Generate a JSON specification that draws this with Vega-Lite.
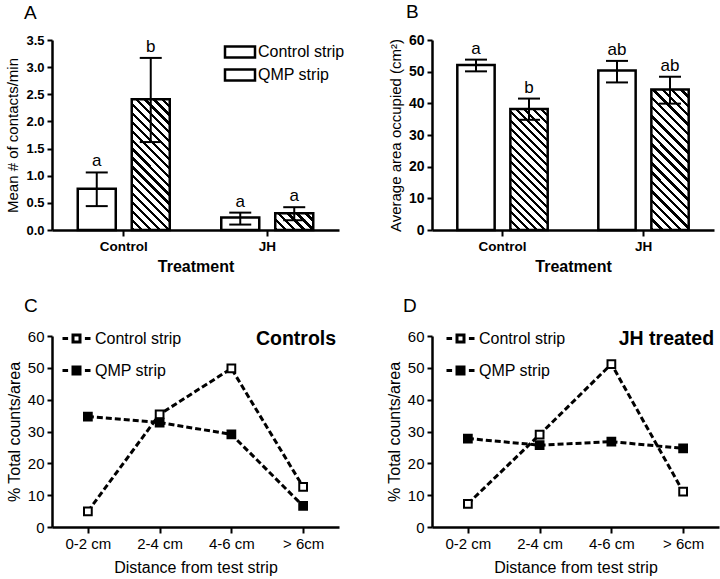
{
  "$schema": "https://vega.github.io/schema/vega-lite/v6.json",
  "background": "white",
  "padding": {"left": 5, "top": 3, "right": 5, "bottom": 5},
  "columns": 2,
  "spacing": {"row": 21, "column": 41},
  "resolve": {
    "scale": {"x": "independent", "y": "independent", "xOffset": "independent", "fill": "independent", "stroke": "independent"},
    "legend": {"fill": "independent", "stroke": "independent"}
  },
  "config": {
    "font": "Liberation Sans",
    "view": {"stroke": null},
    "axis": {
      "domainColor": "black", "domainWidth": 2.5, "tickColor": "black", "tickWidth": 2, "tickSize": 5,
      "labelColor": "black", "titleColor": "black", "grid": false, "labelOverlap": false,
      "labelFont": "Liberation Sans", "titleFont": "Liberation Sans"
    },
    "legend": {"labelColor": "black", "labelFont": "Liberation Sans"},
    "title": {"color": "black", "font": "Liberation Sans"}
  },
  "concat": [
    {
      "width": 287,
      "height": 190,
      "title": {"text": "A", "anchor": "start", "frame": "group", "dx": -28, "fontSize": 19, "fontWeight": "normal", "offset": 11},
      "data": {"values": [
        {"group": "Control", "series": "Control strip", "mean": 0.76, "lo": 0.44, "hi": 1.06, "letter": "a"},
        {"group": "Control", "series": "QMP strip", "mean": 2.41, "lo": 1.62, "hi": 3.17, "letter": "b"},
        {"group": "JH", "series": "Control strip", "mean": 0.23, "lo": 0.1, "hi": 0.32, "letter": "a"},
        {"group": "JH", "series": "QMP strip", "mean": 0.31, "lo": 0.18, "hi": 0.42, "letter": "a"}
      ]},
      "encoding": {
        "x": {"field": "group", "type": "nominal", "title": "Treatment",
          "scale": {"paddingInner": 0, "paddingOuter": 0},
          "axis": {"labelAngle": 0, "labelFontWeight": "bold", "labelFontSize": 13.5, "labelPadding": 3, "titleFontSize": 16, "titleFontWeight": "bold", "titlePadding": 6, "tickSize": 6}},
        "xOffset": {"field": "series", "type": "nominal", "scale": {"paddingInner": 0.296, "paddingOuter": 0.477}}
      },
      "layer": [
        {
          "mark": {"type": "bar", "strokeWidth": 2.5},
          "encoding": {
            "y": {"field": "mean", "type": "quantitative", "title": "Mean # of contacts/min",
              "scale": {"domain": [0, 3.5]},
              "axis": {"values": [0, 0.5, 1, 1.5, 2, 2.5, 3, 3.5], "format": ".1f", "labelFontWeight": "bold", "labelFontSize": 13, "labelPadding": 3, "titleFontSize": 15, "titleFontWeight": "normal", "titlePadding": 5}},
            "stroke": {"field": "series", "type": "nominal", "scale": {"range": ["black", "black"]},
              "legend": {"title": null, "orient": "none", "legendX": 179, "legendY": 3, "labelFontSize": 16, "symbolType": "M-2,-0.73H2V0.73H-2Z", "symbolSize": 225, "symbolStrokeWidth": 2.5, "rowPadding": 1, "labelOffset": 9,
                "encode": {"symbols": {"update": {
                  "fill": [
                    {"test": "datum.value === 'QMP strip'", "value": {"gradient": "linear", "x1": 0, "y1": 1, "x2": 1.205, "y2": 0.558, "stops": [
                      {"offset": 0, "color": "#000"}, {"offset": 0.0925, "color": "#000"}, {"offset": 0.0925, "color": "#fff"}, {"offset": 0.25, "color": "#fff"},
                      {"offset": 0.25, "color": "#000"}, {"offset": 0.3425, "color": "#000"}, {"offset": 0.3425, "color": "#fff"}, {"offset": 0.5, "color": "#fff"},
                      {"offset": 0.5, "color": "#000"}, {"offset": 0.5925, "color": "#000"}, {"offset": 0.5925, "color": "#fff"}, {"offset": 0.75, "color": "#fff"},
                      {"offset": 0.75, "color": "#000"}, {"offset": 0.8425, "color": "#000"}, {"offset": 0.8425, "color": "#fff"}, {"offset": 1, "color": "#fff"}
                    ]}},
                    {"value": "white"}
                  ],
                  "fillOpacity": {"value": 1},
                  "stroke": {"value": "black"},
                  "strokeWidth": {"value": 2.5}
                }}}
              }},
            "fill": {
              "condition": [
                {"test": "datum.group === 'Control' && datum.series === 'QMP strip'", "value": {"gradient": "linear", "x1": 0, "y1": 1, "x2": 0.346, "y2": -0.19, "stops": [
                  {"offset": 0, "color": "#000"}, {"offset": 0.0195, "color": "#000"}, {"offset": 0.0195, "color": "#fff"}, {"offset": 0.0526, "color": "#fff"},
                  {"offset": 0.0526, "color": "#000"}, {"offset": 0.0721, "color": "#000"}, {"offset": 0.0721, "color": "#fff"}, {"offset": 0.1053, "color": "#fff"},
                  {"offset": 0.1053, "color": "#000"}, {"offset": 0.1248, "color": "#000"}, {"offset": 0.1248, "color": "#fff"}, {"offset": 0.1579, "color": "#fff"},
                  {"offset": 0.1579, "color": "#000"}, {"offset": 0.1774, "color": "#000"}, {"offset": 0.1774, "color": "#fff"}, {"offset": 0.2105, "color": "#fff"},
                  {"offset": 0.2105, "color": "#000"}, {"offset": 0.23, "color": "#000"}, {"offset": 0.23, "color": "#fff"}, {"offset": 0.2632, "color": "#fff"},
                  {"offset": 0.2632, "color": "#000"}, {"offset": 0.2827, "color": "#000"}, {"offset": 0.2827, "color": "#fff"}, {"offset": 0.3158, "color": "#fff"},
                  {"offset": 0.3158, "color": "#000"}, {"offset": 0.3353, "color": "#000"}, {"offset": 0.3353, "color": "#fff"}, {"offset": 0.3684, "color": "#fff"},
                  {"offset": 0.3684, "color": "#000"}, {"offset": 0.3879, "color": "#000"}, {"offset": 0.3879, "color": "#fff"}, {"offset": 0.4211, "color": "#fff"},
                  {"offset": 0.4211, "color": "#000"}, {"offset": 0.4406, "color": "#000"}, {"offset": 0.4406, "color": "#fff"}, {"offset": 0.4737, "color": "#fff"},
                  {"offset": 0.4737, "color": "#000"}, {"offset": 0.4932, "color": "#000"}, {"offset": 0.4932, "color": "#fff"}, {"offset": 0.5263, "color": "#fff"},
                  {"offset": 0.5263, "color": "#000"}, {"offset": 0.5458, "color": "#000"}, {"offset": 0.5458, "color": "#fff"}, {"offset": 0.5789, "color": "#fff"},
                  {"offset": 0.5789, "color": "#000"}, {"offset": 0.5984, "color": "#000"}, {"offset": 0.5984, "color": "#fff"}, {"offset": 0.6316, "color": "#fff"},
                  {"offset": 0.6316, "color": "#000"}, {"offset": 0.6511, "color": "#000"}, {"offset": 0.6511, "color": "#fff"}, {"offset": 0.6842, "color": "#fff"},
                  {"offset": 0.6842, "color": "#000"}, {"offset": 0.7037, "color": "#000"}, {"offset": 0.7037, "color": "#fff"}, {"offset": 0.7368, "color": "#fff"},
                  {"offset": 0.7368, "color": "#000"}, {"offset": 0.7563, "color": "#000"}, {"offset": 0.7563, "color": "#fff"}, {"offset": 0.7895, "color": "#fff"},
                  {"offset": 0.7895, "color": "#000"}, {"offset": 0.809, "color": "#000"}, {"offset": 0.809, "color": "#fff"}, {"offset": 0.8421, "color": "#fff"},
                  {"offset": 0.8421, "color": "#000"}, {"offset": 0.8616, "color": "#000"}, {"offset": 0.8616, "color": "#fff"}, {"offset": 0.8947, "color": "#fff"},
                  {"offset": 0.8947, "color": "#000"}, {"offset": 0.9142, "color": "#000"}, {"offset": 0.9142, "color": "#fff"}, {"offset": 0.9474, "color": "#fff"},
                  {"offset": 0.9474, "color": "#000"}, {"offset": 0.9669, "color": "#000"}, {"offset": 0.9669, "color": "#fff"}, {"offset": 1, "color": "#fff"}
                ]}},
                {"test": "datum.group === 'JH' && datum.series === 'QMP strip'", "value": {"gradient": "linear", "x1": 0, "y1": 1, "x2": 1.207, "y2": 0.467, "stops": [
                  {"offset": 0, "color": "#000"}, {"offset": 0.0617, "color": "#000"}, {"offset": 0.0617, "color": "#fff"}, {"offset": 0.1667, "color": "#fff"},
                  {"offset": 0.1667, "color": "#000"}, {"offset": 0.2284, "color": "#000"}, {"offset": 0.2284, "color": "#fff"}, {"offset": 0.3333, "color": "#fff"},
                  {"offset": 0.3333, "color": "#000"}, {"offset": 0.395, "color": "#000"}, {"offset": 0.395, "color": "#fff"}, {"offset": 0.5, "color": "#fff"},
                  {"offset": 0.5, "color": "#000"}, {"offset": 0.5617, "color": "#000"}, {"offset": 0.5617, "color": "#fff"}, {"offset": 0.6667, "color": "#fff"},
                  {"offset": 0.6667, "color": "#000"}, {"offset": 0.7284, "color": "#000"}, {"offset": 0.7284, "color": "#fff"}, {"offset": 0.8333, "color": "#fff"},
                  {"offset": 0.8333, "color": "#000"}, {"offset": 0.895, "color": "#000"}, {"offset": 0.895, "color": "#fff"}, {"offset": 1, "color": "#fff"}
                ]}}
              ],
              "value": "white"
            }
          }
        },
        {
          "mark": {"type": "rule", "strokeWidth": 2, "color": "black"},
          "encoding": {"y": {"field": "lo", "type": "quantitative", "title": "Mean # of contacts/min", "scale": {"domain": [0, 3.5]},
              "axis": {"values": [0, 0.5, 1, 1.5, 2, 2.5, 3, 3.5], "format": ".1f", "labelFontWeight": "bold", "labelFontSize": 13, "labelPadding": 3, "titleFontSize": 15, "titleFontWeight": "normal", "titlePadding": 5}},
            "y2": {"field": "hi"}}
        },
        {
          "mark": {"type": "tick", "size": 22, "thickness": 2, "color": "black", "opacity": 1},
          "encoding": {"y": {"field": "lo", "type": "quantitative", "title": "Mean # of contacts/min", "scale": {"domain": [0, 3.5]},
              "axis": {"values": [0, 0.5, 1, 1.5, 2, 2.5, 3, 3.5], "format": ".1f", "labelFontWeight": "bold", "labelFontSize": 13, "labelPadding": 3, "titleFontSize": 15, "titleFontWeight": "normal", "titlePadding": 5}}}
        },
        {
          "mark": {"type": "tick", "size": 22, "thickness": 2, "color": "black", "opacity": 1},
          "encoding": {"y": {"field": "hi", "type": "quantitative", "title": "Mean # of contacts/min", "scale": {"domain": [0, 3.5]},
              "axis": {"values": [0, 0.5, 1, 1.5, 2, 2.5, 3, 3.5], "format": ".1f", "labelFontWeight": "bold", "labelFontSize": 13, "labelPadding": 3, "titleFontSize": 15, "titleFontWeight": "normal", "titlePadding": 5}}}
        },
        {
          "mark": {"type": "text", "baseline": "bottom", "dy": -2, "fontSize": 17, "color": "black"},
          "encoding": {"y": {"field": "hi", "type": "quantitative", "title": "Mean # of contacts/min", "scale": {"domain": [0, 3.5]},
              "axis": {"values": [0, 0.5, 1, 1.5, 2, 2.5, 3, 3.5], "format": ".1f", "labelFontWeight": "bold", "labelFontSize": 13, "labelPadding": 3, "titleFontSize": 15, "titleFontWeight": "normal", "titlePadding": 5}},
            "text": {"field": "letter"}}
        }
      ]
    },
    {
      "width": 282,
      "height": 190,
      "title": {"text": "B", "anchor": "start", "frame": "group", "dx": -26, "fontSize": 19, "fontWeight": "normal", "offset": 11},
      "data": {"values": [
        {"group": "Control", "series": "Control strip", "mean": 52.1, "lo": 50.1, "hi": 53.8, "letter": "a"},
        {"group": "Control", "series": "QMP strip", "mean": 38.25, "lo": 34.8, "hi": 41.5, "letter": "b"},
        {"group": "JH", "series": "Control strip", "mean": 50.4, "lo": 46.6, "hi": 53.4, "letter": "ab"},
        {"group": "JH", "series": "QMP strip", "mean": 44.4, "lo": 39.9, "hi": 48.4, "letter": "ab"}
      ]},
      "encoding": {
        "x": {"field": "group", "type": "nominal", "title": "Treatment",
          "scale": {"paddingInner": 0, "paddingOuter": 0},
          "axis": {"labelAngle": 0, "labelFontWeight": "bold", "labelFontSize": 13.5, "labelPadding": 3, "titleFontSize": 16, "titleFontWeight": "bold", "titlePadding": 6, "tickSize": 6}},
        "xOffset": {"field": "series", "type": "nominal", "scale": {"paddingInner": 0.296, "paddingOuter": 0.477}}
      },
      "layer": [
        {
          "mark": {"type": "bar", "strokeWidth": 2.5, "stroke": "black"},
          "encoding": {
            "y": {"field": "mean", "type": "quantitative", "title": "Average area occupied (cm²)",
              "scale": {"domain": [0, 60]},
              "axis": {"values": [0, 10, 20, 30, 40, 50, 60], "labelFontWeight": "bold", "labelFontSize": 14, "labelPadding": 3, "titleFontSize": 15, "titleFontWeight": "normal", "titlePadding": 5}},
            "fill": {
              "condition": [
                {"test": "datum.group === 'Control' && datum.series === 'QMP strip'", "value": {"gradient": "linear", "x1": 0, "y1": 1, "x2": 0.369, "y2": -0.195, "stops": [
                  {"offset": 0, "color": "#000"}, {"offset": 0.0195, "color": "#000"}, {"offset": 0.0195, "color": "#fff"}, {"offset": 0.0526, "color": "#fff"},
                  {"offset": 0.0526, "color": "#000"}, {"offset": 0.0721, "color": "#000"}, {"offset": 0.0721, "color": "#fff"}, {"offset": 0.1053, "color": "#fff"},
                  {"offset": 0.1053, "color": "#000"}, {"offset": 0.1248, "color": "#000"}, {"offset": 0.1248, "color": "#fff"}, {"offset": 0.1579, "color": "#fff"},
                  {"offset": 0.1579, "color": "#000"}, {"offset": 0.1774, "color": "#000"}, {"offset": 0.1774, "color": "#fff"}, {"offset": 0.2105, "color": "#fff"},
                  {"offset": 0.2105, "color": "#000"}, {"offset": 0.23, "color": "#000"}, {"offset": 0.23, "color": "#fff"}, {"offset": 0.2632, "color": "#fff"},
                  {"offset": 0.2632, "color": "#000"}, {"offset": 0.2827, "color": "#000"}, {"offset": 0.2827, "color": "#fff"}, {"offset": 0.3158, "color": "#fff"},
                  {"offset": 0.3158, "color": "#000"}, {"offset": 0.3353, "color": "#000"}, {"offset": 0.3353, "color": "#fff"}, {"offset": 0.3684, "color": "#fff"},
                  {"offset": 0.3684, "color": "#000"}, {"offset": 0.3879, "color": "#000"}, {"offset": 0.3879, "color": "#fff"}, {"offset": 0.4211, "color": "#fff"},
                  {"offset": 0.4211, "color": "#000"}, {"offset": 0.4406, "color": "#000"}, {"offset": 0.4406, "color": "#fff"}, {"offset": 0.4737, "color": "#fff"},
                  {"offset": 0.4737, "color": "#000"}, {"offset": 0.4932, "color": "#000"}, {"offset": 0.4932, "color": "#fff"}, {"offset": 0.5263, "color": "#fff"},
                  {"offset": 0.5263, "color": "#000"}, {"offset": 0.5458, "color": "#000"}, {"offset": 0.5458, "color": "#fff"}, {"offset": 0.5789, "color": "#fff"},
                  {"offset": 0.5789, "color": "#000"}, {"offset": 0.5984, "color": "#000"}, {"offset": 0.5984, "color": "#fff"}, {"offset": 0.6316, "color": "#fff"},
                  {"offset": 0.6316, "color": "#000"}, {"offset": 0.6511, "color": "#000"}, {"offset": 0.6511, "color": "#fff"}, {"offset": 0.6842, "color": "#fff"},
                  {"offset": 0.6842, "color": "#000"}, {"offset": 0.7037, "color": "#000"}, {"offset": 0.7037, "color": "#fff"}, {"offset": 0.7368, "color": "#fff"},
                  {"offset": 0.7368, "color": "#000"}, {"offset": 0.7563, "color": "#000"}, {"offset": 0.7563, "color": "#fff"}, {"offset": 0.7895, "color": "#fff"},
                  {"offset": 0.7895, "color": "#000"}, {"offset": 0.809, "color": "#000"}, {"offset": 0.809, "color": "#fff"}, {"offset": 0.8421, "color": "#fff"},
                  {"offset": 0.8421, "color": "#000"}, {"offset": 0.8616, "color": "#000"}, {"offset": 0.8616, "color": "#fff"}, {"offset": 0.8947, "color": "#fff"},
                  {"offset": 0.8947, "color": "#000"}, {"offset": 0.9142, "color": "#000"}, {"offset": 0.9142, "color": "#fff"}, {"offset": 0.9474, "color": "#fff"},
                  {"offset": 0.9474, "color": "#000"}, {"offset": 0.9669, "color": "#000"}, {"offset": 0.9669, "color": "#fff"}, {"offset": 1, "color": "#fff"}
                ]}},
                {"test": "datum.group === 'JH' && datum.series === 'QMP strip'", "value": {"gradient": "linear", "x1": 0, "y1": 1, "x2": 0.315, "y2": -0.182, "stops": [
                  {"offset": 0, "color": "#000"}, {"offset": 0.0195, "color": "#000"}, {"offset": 0.0195, "color": "#fff"}, {"offset": 0.0526, "color": "#fff"},
                  {"offset": 0.0526, "color": "#000"}, {"offset": 0.0721, "color": "#000"}, {"offset": 0.0721, "color": "#fff"}, {"offset": 0.1053, "color": "#fff"},
                  {"offset": 0.1053, "color": "#000"}, {"offset": 0.1248, "color": "#000"}, {"offset": 0.1248, "color": "#fff"}, {"offset": 0.1579, "color": "#fff"},
                  {"offset": 0.1579, "color": "#000"}, {"offset": 0.1774, "color": "#000"}, {"offset": 0.1774, "color": "#fff"}, {"offset": 0.2105, "color": "#fff"},
                  {"offset": 0.2105, "color": "#000"}, {"offset": 0.23, "color": "#000"}, {"offset": 0.23, "color": "#fff"}, {"offset": 0.2632, "color": "#fff"},
                  {"offset": 0.2632, "color": "#000"}, {"offset": 0.2827, "color": "#000"}, {"offset": 0.2827, "color": "#fff"}, {"offset": 0.3158, "color": "#fff"},
                  {"offset": 0.3158, "color": "#000"}, {"offset": 0.3353, "color": "#000"}, {"offset": 0.3353, "color": "#fff"}, {"offset": 0.3684, "color": "#fff"},
                  {"offset": 0.3684, "color": "#000"}, {"offset": 0.3879, "color": "#000"}, {"offset": 0.3879, "color": "#fff"}, {"offset": 0.4211, "color": "#fff"},
                  {"offset": 0.4211, "color": "#000"}, {"offset": 0.4406, "color": "#000"}, {"offset": 0.4406, "color": "#fff"}, {"offset": 0.4737, "color": "#fff"},
                  {"offset": 0.4737, "color": "#000"}, {"offset": 0.4932, "color": "#000"}, {"offset": 0.4932, "color": "#fff"}, {"offset": 0.5263, "color": "#fff"},
                  {"offset": 0.5263, "color": "#000"}, {"offset": 0.5458, "color": "#000"}, {"offset": 0.5458, "color": "#fff"}, {"offset": 0.5789, "color": "#fff"},
                  {"offset": 0.5789, "color": "#000"}, {"offset": 0.5984, "color": "#000"}, {"offset": 0.5984, "color": "#fff"}, {"offset": 0.6316, "color": "#fff"},
                  {"offset": 0.6316, "color": "#000"}, {"offset": 0.6511, "color": "#000"}, {"offset": 0.6511, "color": "#fff"}, {"offset": 0.6842, "color": "#fff"},
                  {"offset": 0.6842, "color": "#000"}, {"offset": 0.7037, "color": "#000"}, {"offset": 0.7037, "color": "#fff"}, {"offset": 0.7368, "color": "#fff"},
                  {"offset": 0.7368, "color": "#000"}, {"offset": 0.7563, "color": "#000"}, {"offset": 0.7563, "color": "#fff"}, {"offset": 0.7895, "color": "#fff"},
                  {"offset": 0.7895, "color": "#000"}, {"offset": 0.809, "color": "#000"}, {"offset": 0.809, "color": "#fff"}, {"offset": 0.8421, "color": "#fff"},
                  {"offset": 0.8421, "color": "#000"}, {"offset": 0.8616, "color": "#000"}, {"offset": 0.8616, "color": "#fff"}, {"offset": 0.8947, "color": "#fff"},
                  {"offset": 0.8947, "color": "#000"}, {"offset": 0.9142, "color": "#000"}, {"offset": 0.9142, "color": "#fff"}, {"offset": 0.9474, "color": "#fff"},
                  {"offset": 0.9474, "color": "#000"}, {"offset": 0.9669, "color": "#000"}, {"offset": 0.9669, "color": "#fff"}, {"offset": 1, "color": "#fff"}
                ]}}
              ],
              "value": "white"
            }
          }
        },
        {
          "mark": {"type": "rule", "strokeWidth": 2, "color": "black"},
          "encoding": {"y": {"field": "lo", "type": "quantitative", "title": "Average area occupied (cm²)", "scale": {"domain": [0, 60]},
              "axis": {"values": [0, 10, 20, 30, 40, 50, 60], "labelFontWeight": "bold", "labelFontSize": 14, "labelPadding": 3, "titleFontSize": 15, "titleFontWeight": "normal", "titlePadding": 5}},
            "y2": {"field": "hi"}}
        },
        {
          "mark": {"type": "tick", "size": 22, "thickness": 2, "color": "black", "opacity": 1},
          "encoding": {"y": {"field": "lo", "type": "quantitative", "title": "Average area occupied (cm²)", "scale": {"domain": [0, 60]},
              "axis": {"values": [0, 10, 20, 30, 40, 50, 60], "labelFontWeight": "bold", "labelFontSize": 14, "labelPadding": 3, "titleFontSize": 15, "titleFontWeight": "normal", "titlePadding": 5}}}
        },
        {
          "mark": {"type": "tick", "size": 22, "thickness": 2, "color": "black", "opacity": 1},
          "encoding": {"y": {"field": "hi", "type": "quantitative", "title": "Average area occupied (cm²)", "scale": {"domain": [0, 60]},
              "axis": {"values": [0, 10, 20, 30, 40, 50, 60], "labelFontWeight": "bold", "labelFontSize": 14, "labelPadding": 3, "titleFontSize": 15, "titleFontWeight": "normal", "titlePadding": 5}}}
        },
        {
          "mark": {"type": "text", "baseline": "bottom", "dy": -2, "fontSize": 17, "color": "black"},
          "encoding": {"y": {"field": "hi", "type": "quantitative", "title": "Average area occupied (cm²)", "scale": {"domain": [0, 60]},
              "axis": {"values": [0, 10, 20, 30, 40, 50, 60], "labelFontWeight": "bold", "labelFontSize": 14, "labelPadding": 3, "titleFontSize": 15, "titleFontWeight": "normal", "titlePadding": 5}},
            "text": {"field": "letter"}}
        }
      ]
    },
    {
      "width": 287,
      "height": 191,
      "title": {"text": "C", "anchor": "start", "frame": "group", "dx": -28, "fontSize": 19, "fontWeight": "normal", "offset": 13.5},
      "data": {"values": [
        {"dist": "0-2 cm", "series": "Control strip", "pct": 4.9},
        {"dist": "2-4 cm", "series": "Control strip", "pct": 35.4},
        {"dist": "4-6 cm", "series": "Control strip", "pct": 49.8},
        {"dist": "> 6cm", "series": "Control strip", "pct": 12.6},
        {"dist": "0-2 cm", "series": "QMP strip", "pct": 34.7},
        {"dist": "2-4 cm", "series": "QMP strip", "pct": 32.8},
        {"dist": "4-6 cm", "series": "QMP strip", "pct": 29.1},
        {"dist": "> 6cm", "series": "QMP strip", "pct": 6.6}
      ]},
      "encoding": {
        "x": {"field": "dist", "type": "ordinal", "title": "Distance from test strip",
          "sort": ["0-2 cm", "2-4 cm", "4-6 cm", "> 6cm"],
          "scale": {"type": "point", "padding": 0.5},
          "axis": {"labelAngle": 0, "labelFontSize": 15, "labelPadding": 3, "titleFontSize": 16, "titleFontWeight": "normal", "titlePadding": 8, "tickSize": 6}},
        "y": {"field": "pct", "type": "quantitative", "title": "% Total counts/area",
          "scale": {"domain": [0, 60]},
          "axis": {"values": [0, 10, 20, 30, 40, 50, 60], "labelFontSize": 15, "labelPadding": 3, "titleFontSize": 16, "titleFontWeight": "normal", "titlePadding": 5}}
      },
      "layer": [
        {
          "mark": {"type": "line", "strokeDash": [6, 3], "strokeWidth": 3, "color": "black"},
          "encoding": {"detail": {"field": "series"}}
        },
        {
          "mark": {"type": "point", "shape": "square", "filled": true, "size": 60, "stroke": "black", "strokeWidth": 2, "opacity": 1},
          "encoding": {"fill": {"field": "series", "type": "nominal", "scale": {"range": ["white", "black"]},
            "legend": {"title": null, "orient": "none", "legendX": 16, "legendY": -6, "labelFontSize": 16, "symbolType": "M-2,0H-1.2M1.2,0H2M-0.5,-0.5H0.5V0.5H-0.5Z", "symbolSize": 196, "symbolStrokeColor": "black", "symbolStrokeWidth": 3, "symbolOpacity": 1, "rowPadding": 13, "labelOffset": 10}}}
        },
        {
          "transform": [{"filter": "datum.dist === '> 6cm' && datum.series === 'Control strip'"}],
          "mark": {"type": "text", "align": "right", "baseline": "middle", "dx": 33, "fontSize": 19.5, "fontWeight": "bold", "color": "black"},
          "encoding": {"y": {"datum": 59, "type": "quantitative"}, "text": {"value": "Controls"}}
        }
      ]
    },
    {
      "width": 287,
      "height": 191,
      "title": {"text": "D", "anchor": "start", "frame": "group", "dx": -29, "fontSize": 19, "fontWeight": "normal", "offset": 13.5},
      "data": {"values": [
        {"dist": "0-2 cm", "series": "Control strip", "pct": 7.3},
        {"dist": "2-4 cm", "series": "Control strip", "pct": 29.0},
        {"dist": "4-6 cm", "series": "Control strip", "pct": 51.2},
        {"dist": "> 6cm", "series": "Control strip", "pct": 11.1},
        {"dist": "0-2 cm", "series": "QMP strip", "pct": 27.8},
        {"dist": "2-4 cm", "series": "QMP strip", "pct": 25.7},
        {"dist": "4-6 cm", "series": "QMP strip", "pct": 26.8},
        {"dist": "> 6cm", "series": "QMP strip", "pct": 24.7}
      ]},
      "encoding": {
        "x": {"field": "dist", "type": "ordinal", "title": "Distance from test strip",
          "sort": ["0-2 cm", "2-4 cm", "4-6 cm", "> 6cm"],
          "scale": {"type": "point", "padding": 0.5},
          "axis": {"labelAngle": 0, "labelFontSize": 15, "labelPadding": 3, "titleFontSize": 16, "titleFontWeight": "normal", "titlePadding": 8, "tickSize": 6}},
        "y": {"field": "pct", "type": "quantitative", "title": "% Total counts/area",
          "scale": {"domain": [0, 60]},
          "axis": {"values": [0, 10, 20, 30, 40, 50, 60], "labelFontSize": 15, "labelPadding": 3, "titleFontSize": 16, "titleFontWeight": "normal", "titlePadding": 5}}
      },
      "layer": [
        {
          "mark": {"type": "line", "strokeDash": [6, 3], "strokeWidth": 3, "color": "black"},
          "encoding": {"detail": {"field": "series"}}
        },
        {
          "mark": {"type": "point", "shape": "square", "filled": true, "size": 60, "stroke": "black", "strokeWidth": 2, "opacity": 1},
          "encoding": {"fill": {"field": "series", "type": "nominal", "scale": {"range": ["white", "black"]},
            "legend": {"title": null, "orient": "none", "legendX": 20, "legendY": -6, "labelFontSize": 16, "symbolType": "M-2,0H-1.2M1.2,0H2M-0.5,-0.5H0.5V0.5H-0.5Z", "symbolSize": 196, "symbolStrokeColor": "black", "symbolStrokeWidth": 3, "symbolOpacity": 1, "rowPadding": 13, "labelOffset": 10}}}
        },
        {
          "transform": [{"filter": "datum.dist === '> 6cm' && datum.series === 'Control strip'"}],
          "mark": {"type": "text", "align": "right", "baseline": "middle", "dx": 31, "fontSize": 19.5, "fontWeight": "bold", "color": "black"},
          "encoding": {"y": {"datum": 59, "type": "quantitative"}, "text": {"value": "JH treated"}}
        }
      ]
    }
  ]
}
